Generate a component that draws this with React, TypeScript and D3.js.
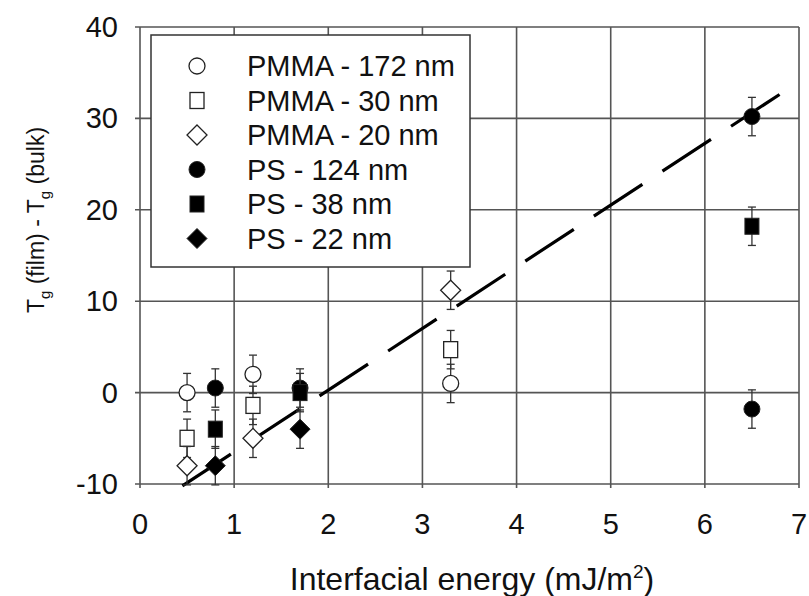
import React from 'react';
import * as d3 from 'd3';

// x = interfacial energy, y = Tg(film) - Tg(bulk)
const pmma172 = [{ x: 0.5, y: 0 }, { x: 1.2, y: 2 }, { x: 3.3, y: 1 }];
const pmma30 = [{ x: 0.5, y: -5 }, { x: 1.2, y: -1.4 }, { x: 3.3, y: 4.7 }];
const pmma20 = [{ x: 0.5, y: -8 }, { x: 1.2, y: -5 }, { x: 3.3, y: 11.2 }];
const ps124 = [{ x: 0.8, y: 0.5 }, { x: 1.7, y: 0.5 }, { x: 6.5, y: 30.2 }, { x: 6.5, y: -1.8 }];
const ps38 = [{ x: 0.8, y: -4 }, { x: 1.7, y: 0 }, { x: 6.5, y: 18.2 }];
const ps22 = [{ x: 0.8, y: -8 }, { x: 1.7, y: -4 }];
const errorBar = 2.1;
const fitLine = [{ x: 0.45, y: -10.2 }, { x: 6.85, y: 33 }];

const xTicks = [0, 1, 2, 3, 4, 5, 6, 7];
const yTicks = [-10, 0, 10, 20, 30, 40];

const series = [
  { name: 'PMMA - 172 nm', shape: 'circle', filled: false, data: pmma172 },
  { name: 'PMMA - 30 nm', shape: 'square', filled: false, data: pmma30 },
  { name: 'PMMA - 20 nm', shape: 'diamond', filled: false, data: pmma20 },
  { name: 'PS - 124 nm', shape: 'circle', filled: true, data: ps124 },
  { name: 'PS - 38 nm', shape: 'square', filled: true, data: ps38 },
  { name: 'PS - 22 nm', shape: 'diamond', filled: true, data: ps22 },
];

const font = 'Liberation Sans, Arial, Helvetica, sans-serif';

function Marker({ shape, filled, cx, cy }: { shape: string; filled: boolean; cx: number; cy: number }) {
  const fill = filled ? '#000' : '#fff';
  const stroke = '#222';
  const sw = filled ? 1 : 1.3;
  if (shape === 'circle') return <circle cx={cx} cy={cy} r={8} fill={fill} stroke={stroke} strokeWidth={sw} />;
  if (shape === 'square') return <rect x={cx - 7} y={cy - 8} width={14} height={16} fill={fill} stroke={stroke} strokeWidth={sw} />;
  const s = 10;
  return <path d={`M${cx},${cy - s}L${cx + s},${cy}L${cx},${cy + s}L${cx - s},${cy}Z`} fill={fill} stroke={stroke} strokeWidth={sw} />;
}

export default function App() {
  const width = 809, height = 596;
  const x = d3.scaleLinear().domain([0, 7]).range([140, 799]);
  const y = d3.scaleLinear().domain([-10, 40]).range([484, 27]);
  const line = d3.line<{ x: number; y: number }>().x(d => x(d.x)).y(d => y(d.y));

  return (
    <svg width={width} height={height} style={{ position: 'absolute', left: 0, top: 0, background: '#fff' }}>
      <rect width={width} height={height} fill="#fff" />
      {/* grid */}
      {xTicks.map(t => (
        <line key={'gx' + t} x1={x(t)} x2={x(t)} y1={y(40)} y2={y(-10) + 4} stroke="#555" strokeWidth={1.6} />
      ))}
      {yTicks.map(t => (
        <line key={'gy' + t} x1={x(0) - 5} x2={x(7)} y1={y(t)} y2={y(t)} stroke="#555" strokeWidth={1.6} />
      ))}
      {/* tick labels */}
      {xTicks.map(t => (
        <text key={'tx' + t} x={x(t)} y={534} textAnchor="middle" fontFamily={font} fontSize={29} fill="#111">{t}</text>
      ))}
      {yTicks.map(t => (
        <text key={'ty' + t} x={118} y={y(t) + 10} textAnchor="end" fontFamily={font} fontSize={29} fill="#111">{t}</text>
      ))}
      {/* axis titles */}
      <text x={472} y={590} textAnchor="middle" fontFamily={font} fontSize={32} fill="#111">
        Interfacial energy (mJ/m<tspan dy={-12} fontSize={19}>2</tspan><tspan dy={12}>)</tspan>
      </text>
      <text transform="translate(44,220) rotate(-90)" textAnchor="middle" fontFamily={font} fontSize={23} fill="#111">
        T<tspan dy={6} fontSize={15}>g</tspan><tspan dy={-6}> (film) - T</tspan><tspan dy={6} fontSize={15}>g</tspan><tspan dy={-6}> (bulk)</tspan>
      </text>
      {/* legend */}
      <rect x={151} y={35} width={319} height={232} fill="#fff" stroke="#333" strokeWidth={1.5} />
      {series.map((s, i) => (
        <g key={'lg' + i}>
          <Marker shape={s.shape} filled={s.filled} cx={197} cy={66 + i * 34.5} />
          <text x={247} y={66 + i * 34.5 + 10} fontFamily={font} fontSize={29} fill="#111">{s.name}</text>
        </g>
      ))}
      {/* fit line */}
      <path d={line(fitLine) || ''} fill="none" stroke="#000" strokeWidth={3.2} strokeDasharray="58,24" />
      {/* error bars and markers */}
      {series.map((s, i) => (
        <g key={'s' + i}>
          {s.data.map((d, j) => (
            <g key={j} stroke="#333" strokeWidth={1.3}>
              <line x1={x(d.x)} x2={x(d.x)} y1={y(d.y - errorBar)} y2={y(d.y + errorBar)} />
              <line x1={x(d.x) - 4} x2={x(d.x) + 4} y1={y(d.y - errorBar)} y2={y(d.y - errorBar)} />
              <line x1={x(d.x) - 4} x2={x(d.x) + 4} y1={y(d.y + errorBar)} y2={y(d.y + errorBar)} />
            </g>
          ))}
          {s.data.map((d, j) => (
            <Marker key={'m' + j} shape={s.shape} filled={s.filled} cx={x(d.x)} cy={y(d.y)} />
          ))}
        </g>
      ))}
    </svg>
  );
}
